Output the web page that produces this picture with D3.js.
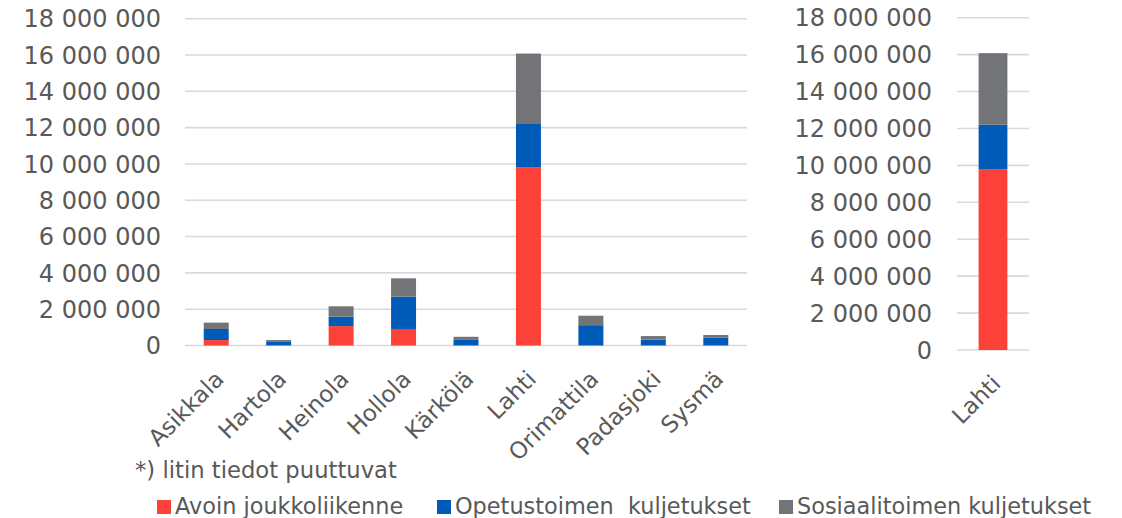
<!DOCTYPE html>
<html><head><meta charset="utf-8">
<script src="https://cdn.jsdelivr.net/npm/d3@7"></script>
<style>
html,body{margin:0;padding:0;background:#fff;}
svg{display:block;}
text{font-family:"DejaVu Sans",Verdana,sans-serif;fill:#595959;}
</style></head>
<body>
<svg id="chart" width="1122" height="518"></svg>
<script>
const categories = ["Asikkala","Hartola","Heinola","Hollola","Kärkölä","Lahti","Orimattila","Padasjoki","Sysmä"];
const avoin     = [300000, 0, 1070000, 910000, 0, 9800000, 0, 0, 0];
const opetus    = [610000, 230000, 520000, 1780000, 340000, 2400000, 1120000, 320000, 430000];
const sosiaali  = [350000, 70000, 570000, 1010000, 140000, 3880000, 520000, 200000, 150000];
const seriesNames = ["Avoin joukkoliikenne", "Opetustoimen  kuljetukset", "Sosiaalitoimen kuljetukset"];
const seriesColors = ["#fc4238", "#005bb8", "#737478"];
const yTicks = [0, 2000000, 4000000, 6000000, 8000000, 10000000, 12000000, 14000000, 16000000, 18000000];
const rightCategories = ["Lahti"];
const footnote = "*) litin tiedot puuttuvat";

const svg = d3.select("#chart");
const fmt = v => d3.format(",")(v).replace(/,/g, " ");
const keys = ["avoin","opetus","sosiaali"];

function buildRows(cats) {
  return cats.map(c => {
    const i = categories.indexOf(c);
    return {cat: c, avoin: avoin[i], opetus: opetus[i], sosiaali: sosiaali[i]};
  });
}

function drawPanel(cfg) {
  const rows = buildRows(cfg.cats);
  const x = d3.scaleBand().domain(cfg.cats).range([cfg.x0, cfg.x1]).paddingInner(0.6).paddingOuter(0.3);
  const y = d3.scaleLinear().domain([0, 18000000]).range([cfg.yBase, cfg.yTop]);
  const g = svg.append("g");
  g.selectAll("line.grid").data(yTicks).join("line")
    .attr("x1", cfg.x0).attr("x2", cfg.x1)
    .attr("y1", d => y(d)).attr("y2", d => y(d))
    .attr("stroke", "#d9d9d9").attr("stroke-width", 1.6);
  g.selectAll("text.ytick").data(yTicks).join("text")
    .attr("x", cfg.labelX).attr("y", d => y(d)).attr("dy", "0.36em")
    .attr("text-anchor", "end").attr("font-size", 24)
    .text(d => fmt(d));
  const stack = d3.stack().keys(keys)(rows);
  stack.forEach((layer, li) => {
    g.append("g").attr("fill", seriesColors[li])
      .selectAll("rect").data(layer).join("rect")
      .attr("x", d => x(d.data.cat))
      .attr("width", x.bandwidth())
      .attr("y", d => y(d[1]))
      .attr("height", d => Math.max(0, y(d[0]) - y(d[1])));
  });
  g.selectAll("text.xlab").data(cfg.cats).join("text")
    .attr("transform", d => `translate(${x(d) + x.bandwidth()/2 + 9},${cfg.yBase + 35}) rotate(-45)`)
    .attr("text-anchor", "end").attr("font-size", 23)
    .text(d => d);
}

drawPanel({cats: categories, x0: 185, x1: 747, yBase: 345.5, yTop: 18.7, labelX: 161});
drawPanel({cats: rightCategories, x0: 957, x1: 1029, yBase: 350, yTop: 17.7, labelX: 932});

svg.append("text").attr("x", 135).attr("y", 478).attr("font-size", 22.7).attr("fill", "#6a6a6a").text(footnote);

const legendX = [157, 437, 779];
const lg = svg.append("g");
seriesNames.forEach((name, i) => {
  lg.append("rect").attr("x", legendX[i]).attr("y", 500).attr("width", 14).attr("height", 14).attr("fill", seriesColors[i]);
  lg.append("text").attr("x", legendX[i] + 18).attr("y", 514).attr("font-size", 22.4)
    .style("white-space", "pre").text(name);
});
</script>
</body></html>
